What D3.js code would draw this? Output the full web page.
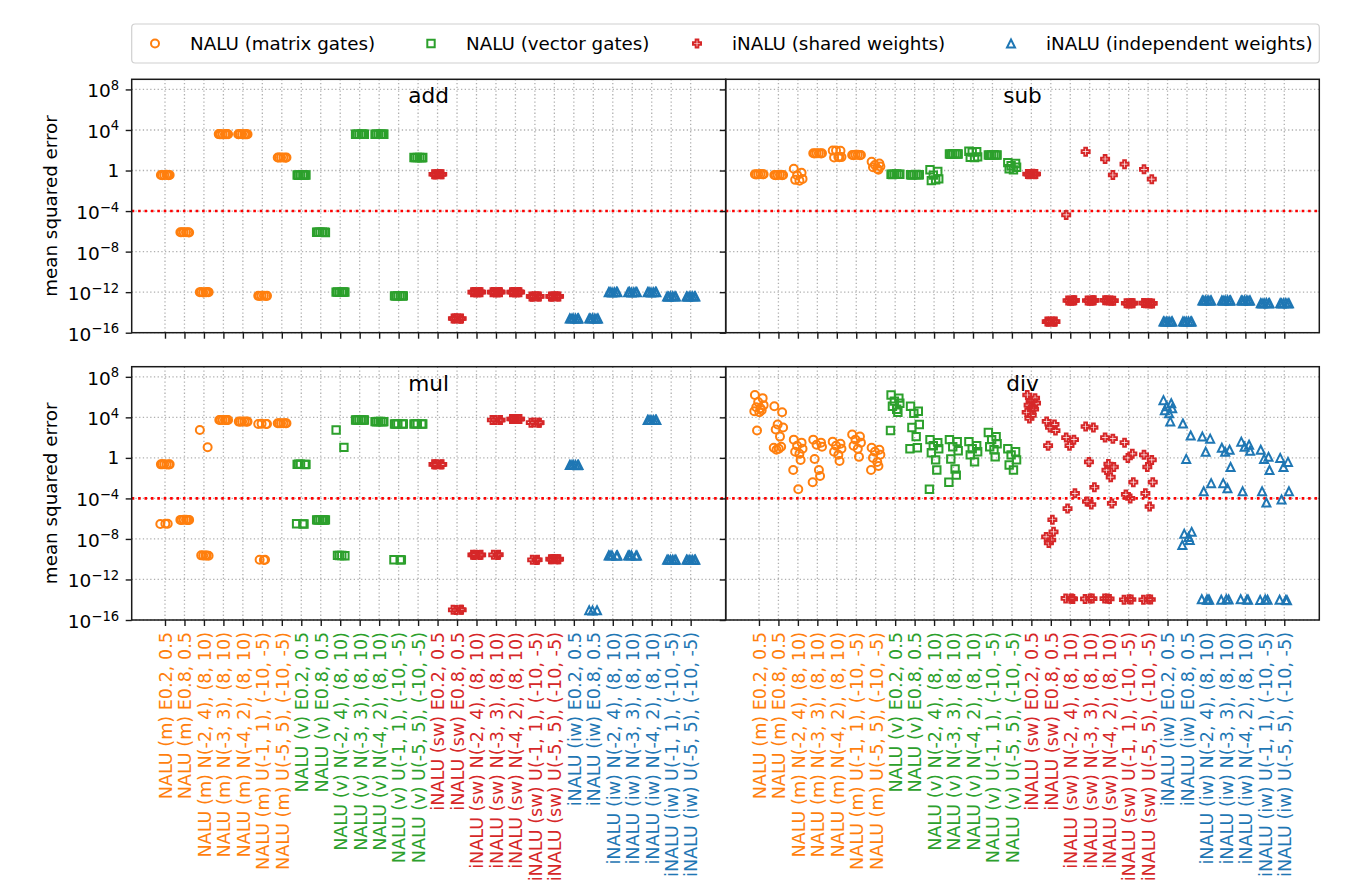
<!DOCTYPE html>
<html>
<head>
<meta charset="utf-8">
<script src="https://cdn.jsdelivr.net/npm/d3@7"></script>
<style>
  body { margin: 0; background: #fff; }
  text { font-family: "DejaVu Sans", sans-serif; }
</style>
</head>
<body>
<svg id="chart" width="1358" height="889"></svg>
<script>
// ---- categories and labels ----
const modelNames = ["NALU (matrix gates)", "NALU (vector gates)", "iNALU (shared weights)", "iNALU (independent weights)"];
const modelTags = ["NALU (m)", "NALU (v)", "iNALU (sw)", "iNALU (iw)"];
const initSchemes = ["E0.2, 0.5", "E0.8, 0.5", "N(-2, 4), (8, 10)", "N(-3, 3), (8, 10)",
                     "N(-4, 2), (8, 10)", "U(-1, 1), (-10, -5)", "U(-5, 5), (-10, -5)"];
const modelColors = ["#ff7f0e", "#2ca02c", "#d62728", "#1f77b4"];
const yTickValues = [1e8, 1e4, 1, 1e-4, 1e-8, 1e-12, 1e-16];
const successThreshold = 1e-4;
const operations = ["add", "sub", "mul", "div"];

// ---- mean squared error of every run, one list per model/initialisation ----
const addMSE = [
  [0.36, 0.35, 0.37, 0.36, 0.34, 0.38, 0.36],
  [8.1e-7, 8.0e-7, 8.3e-7, 7.8e-7, 8.1e-7, 8.2e-7],
  [1.0e-12, 1.05e-12, 0.95e-12, 1.0e-12, 1.02e-12, 0.98e-12, 1.0e-12],
  [3.8e3, 3.9e3, 3.7e3, 3.8e3, 3.85e3, 3.75e3, 3.8e3, 3.9e3],
  [3.8e3, 3.85e3, 3.75e3, 3.8e3, 3.9e3, 3.7e3, 3.8e3, 3.85e3],
  [4.3e-13, 4.2e-13, 4.4e-13, 4.3e-13, 4.1e-13, 4.5e-13],
  [19, 18.5, 19.5, 19, 18.8, 19.2],
  [0.36, 0.35, 0.37, 0.36, 0.34, 0.38, 0.36],
  [8.1e-7, 8.0e-7, 8.3e-7, 7.8e-7, 8.1e-7, 8.2e-7],
  [1.0e-12, 1.05e-12, 0.95e-12, 1.0e-12, 1.02e-12, 0.98e-12, 1.0e-12],
  [3.8e3, 3.9e3, 3.7e3, 3.8e3, 3.85e3, 3.75e3, 3.8e3],
  [3.8e3, 3.85e3, 3.75e3, 3.8e3, 3.9e3, 3.7e3, 3.8e3],
  [4.3e-13, 4.2e-13, 4.4e-13, 4.3e-13, 4.1e-13, 4.5e-13],
  [19, 18.5, 19.5, 19, 18.8, 19.2],
  [0.43, 0.42, 0.44, 0.43, 0.41, 0.45],
  [2.5e-15, 2.4e-15, 2.6e-15, 2.5e-15, 2.45e-15, 2.55e-15],
  [1.0e-12, 1.05e-12, 0.95e-12, 1.0e-12, 1.02e-12, 0.98e-12, 1.0e-12],
  [1.0e-12, 1.05e-12, 0.95e-12, 1.0e-12, 1.02e-12, 0.98e-12, 1.0e-12],
  [1.0e-12, 1.05e-12, 0.95e-12, 1.0e-12, 1.02e-12, 0.98e-12, 1.0e-12],
  [3.8e-13, 3.7e-13, 3.9e-13, 3.8e-13, 3.6e-13, 4.0e-13],
  [3.8e-13, 3.7e-13, 3.9e-13, 3.8e-13, 3.6e-13, 4.0e-13],
  [2.5e-15, 2.4e-15, 2.6e-15, 2.5e-15, 2.45e-15, 2.55e-15],
  [2.5e-15, 2.4e-15, 2.6e-15, 2.5e-15, 2.45e-15, 2.55e-15],
  [1.0e-12, 1.05e-12, 0.95e-12, 1.0e-12, 1.02e-12, 0.98e-12],
  [1.0e-12, 1.05e-12, 0.95e-12, 1.0e-12, 1.02e-12, 0.98e-12],
  [1.0e-12, 1.05e-12, 0.95e-12, 1.0e-12, 1.02e-12, 0.98e-12],
  [3.8e-13, 3.7e-13, 3.9e-13, 3.8e-13, 3.6e-13, 4.0e-13],
  [3.8e-13, 3.7e-13, 3.9e-13, 3.8e-13, 3.6e-13, 4.0e-13]
];

const subMSE = [
  [0.43, 0.42, 0.44, 0.43, 0.41, 0.45],
  [0.36, 0.35, 0.37, 0.36, 0.34, 0.38],
  [1.5, 0.6, 0.35, 0.15, 0.12, 0.1],
  [50, 49, 51, 50, 48, 52],
  [92, 88, 95, 21, 19, 22, 20],
  [34, 33, 35, 34, 32, 36],
  [7.4, 5, 3.5, 2.5, 2.1, 1.5, 1.2],
  [0.43, 0.42, 0.44, 0.43, 0.41, 0.45],
  [0.38, 0.37, 0.39, 0.38, 0.36, 0.4],
  [1.2, 0.8, 0.35, 0.15, 0.1, 0.12],
  [43, 42, 44, 43, 41, 45],
  [80, 72, 65, 22, 20, 19],
  [34, 33, 35, 34, 32, 36],
  [6, 5, 3, 2.1, 1.5, 1.15],
  [0.45, 0.44, 0.46, 0.45, 0.43, 0.47],
  [1.26e-15, 1.2e-15, 1.3e-15, 1.26e-15, 1.22e-15, 1.3e-15],
  [4.2e-5, 1.5e-13, 1.45e-13, 1.55e-13, 1.5e-13, 1.42e-13, 1.58e-13],
  [72, 1.5e-13, 1.45e-13, 1.55e-13, 1.5e-13, 1.42e-13, 1.58e-13],
  [13.8, 0.36, 1.5e-13, 1.45e-13, 1.55e-13, 1.5e-13, 1.42e-13, 1.58e-13],
  [4.2, 8e-14, 7.8e-14, 8.2e-14, 8e-14, 7.6e-14, 8.4e-14],
  [1.3, 0.14, 8e-14, 7.8e-14, 8.2e-14, 8e-14, 7.6e-14, 8.4e-14],
  [1.26e-15, 1.2e-15, 1.3e-15, 1.26e-15, 1.22e-15, 1.3e-15],
  [1.26e-15, 1.2e-15, 1.3e-15, 1.26e-15, 1.22e-15, 1.3e-15],
  [1.5e-13, 1.45e-13, 1.55e-13, 1.5e-13, 1.42e-13, 1.58e-13],
  [1.5e-13, 1.45e-13, 1.55e-13, 1.5e-13, 1.42e-13, 1.58e-13],
  [1.5e-13, 1.45e-13, 1.55e-13, 1.5e-13, 1.42e-13, 1.58e-13],
  [8e-14, 7.8e-14, 8.2e-14, 8e-14, 7.6e-14, 8.4e-14],
  [8e-14, 7.8e-14, 8.2e-14, 8e-14, 7.6e-14, 8.4e-14]
];

const mulMSE = [
  [0.23, 0.22, 0.24, 0.23, 0.235, 0.225, 3.1e-7, 3.0e-7, 3.2e-7],
  [7.6e-7, 7.4e-7, 7.8e-7, 7.6e-7, 7.5e-7, 7.7e-7, 7.6e-7],
  [575, 11, 2.3e-10, 2.2e-10, 2.4e-10, 2.3e-10, 2.35e-10],
  [5500, 5400, 5600, 5500, 5450, 5550, 5500],
  [3800, 3700, 3900, 3800, 3750, 3850],
  [2240, 2200, 2280, 2240, 8.7e-11, 8.5e-11, 8.9e-11],
  [2630, 2600, 2660, 2630, 2610, 2650],
  [0.23, 0.22, 0.24, 0.23, 0.235, 3.1e-7, 3.0e-7, 3.2e-7],
  [7.6e-7, 7.4e-7, 7.8e-7, 7.6e-7, 7.5e-7, 7.7e-7, 7.6e-7],
  [575, 11, 2.3e-10, 2.2e-10, 2.4e-10, 2.3e-10],
  [5500, 5400, 5600, 5500, 5450, 5550],
  [3800, 3700, 3900, 3800, 3750, 3850],
  [2240, 2200, 2280, 2240, 2220, 8.7e-11, 8.5e-11, 8.9e-11],
  [2240, 2200, 2280, 2240, 2260],
  [0.23, 0.22, 0.24, 0.23, 0.225],
  [1.0e-15, 1.05e-15, 0.95e-15, 1.0e-15],
  [2.7e-10, 2.6e-10, 2.8e-10, 2.7e-10, 2.65e-10],
  [5500, 5400, 5600, 5500, 2.7e-10, 2.6e-10, 2.8e-10],
  [6900, 6800, 7000, 6900, 6850, 6950],
  [3000, 2900, 3100, 3000, 8.7e-11, 8.5e-11, 8.9e-11],
  [1.0e-10, 0.98e-10, 1.02e-10, 1.0e-10, 0.99e-10, 1.01e-10],
  [0.2, 0.19, 0.21, 0.2, 0.195, 0.205],
  [9e-16, 9.2e-16, 8.8e-16],
  [2.3e-10, 2.2e-10, 2.4e-10, 2.3e-10, 2.35e-10],
  [2.3e-10, 2.2e-10, 2.4e-10, 2.3e-10, 2.35e-10],
  [5500, 5400, 5600, 5500, 5450, 5550],
  [8.7e-11, 8.5e-11, 8.9e-11, 8.7e-11, 8.6e-11, 8.8e-11],
  [8.7e-11, 8.5e-11, 8.9e-11, 8.7e-11, 8.6e-11, 8.8e-11]
];

const divMSE = [
  [1.6e6, 7.9e5, 3.2e5, 1.6e5, 1e5, 7.9e4, 5e4, 4e4, 3.2e4, 500],
  [1.26e5, 3.2e4, 2000, 1000, 630, 126, 12.6, 10, 7.9, 6.3],
  [63, 32, 16, 7.9, 4, 2.5, 0.63, 0.063, 7.9e-4],
  [63, 32, 20, 12.6, 0.79, 0.063, 0.016, 0.004],
  [40, 25, 16, 7.9, 4, 2, 0.5],
  [200, 126, 63, 32, 16, 7.9, 1.26],
  [10, 6.3, 4, 2, 1, 0.4, 0.16, 0.063],
  [1.6e6, 7.9e5, 4e5, 2.5e5, 1.26e5, 6.3e4, 3.2e4, 500],
  [1.26e5, 4e4, 2.5e4, 2000, 1000, 126, 10, 7.9],
  [63, 32, 16, 7.9, 3.2, 0.63, 0.063, 7.9e-4],
  [63, 40, 12.6, 5, 0.79, 0.079, 0.02, 0.004],
  [40, 16, 7.9, 4, 2, 0.4],
  [316, 126, 63, 25, 12.6, 6.3, 1.26],
  [7.9, 4, 2, 0.63, 0.2, 0.063],
  [1.6e6, 7.9e5, 4e5, 2.5e5, 1.6e5, 1e5, 6.3e4, 3.2e4, 1.6e4, 7.9e3],
  [4000, 2000, 1000, 500, 16, 7.9e-7, 5e-8, 1.6e-8, 7.9e-9, 4e-9],
  [100, 63, 16, 3.2e-4, 1e-5, 1.3e-14, 1.2e-14, 1.35e-14, 1.25e-14],
  [1260, 1000, 0.4, 1.26e-3, 5e-5, 2.5e-5, 1.3e-14, 1.2e-14, 1.35e-14],
  [100, 79, 0.25, 0.126, 0.063, 0.0126, 3.2e-5, 1.3e-14, 1.2e-14, 1.35e-14],
  [32, 2.5, 1, 0.004, 2.5e-4, 1e-4, 1.05e-14, 1.0e-14, 1.1e-14],
  [2, 0.63, 0.126, 0.004, 3.2e-4, 1.6e-5, 1.05e-14, 1.0e-14, 1.1e-14],
  [5e5, 2.5e5, 1.26e5, 7.9e4, 5e4, 2.5e4, 4000],
  [2500, 160, 0.79, 5e-8, 3.2e-8, 1.6e-8, 7.9e-9, 2.5e-9],
  [126, 79, 4, 3.2e-3, 5e-4, 1.05e-14, 1.0e-14, 1.1e-14, 1.02e-14],
  [10, 6.3, 4, 0.126, 3.2e-3, 1e-3, 1.05e-14, 1.0e-14, 1.1e-14],
  [40, 20, 12.6, 5, 5e-4, 1.05e-14, 1.0e-14, 1.1e-14],
  [6.3, 1.26, 0.79, 0.063, 5e-4, 4e-5, 1.0e-14, 0.95e-14, 1.05e-14],
  [1, 0.4, 0.126, 5e-4, 8e-5, 9.5e-15, 9e-15, 1.0e-14]
];

// horizontal spread of the runs inside one category (in category units)
const spread = [-0.21, 0.19, -0.04, 0.24, -0.14, 0.08, 0.14, -0.24, 0.02, -0.1, 0.22, -0.18];

const categories = modelTags.flatMap(m => initSchemes.map(s => `${m} ${s}`));
const categoryModel = categories.map((_, i) => Math.floor(i / initSchemes.length));
const panelData = { add: addMSE, sub: subMSE, mul: mulMSE, div: divMSE };

// ---- layout ----
const svg = d3.select("#chart");
const colX = [[131.7, 725.7], [725.7, 1319.3]];
const rowY = [[79.3, 332.7], [366.7, 620]];
const tickLen = 6;

const x = d3.scaleLinear().domain([-1.71, 28.8]);
const y = d3.scaleLog().domain([1e-16, 1e9]);

// marker outlines, one per model
const S = 4.0;
function markerPath(k) {
  if (k === 0) return `M${S},0A${S},${S} 0 1,1 ${-S},0A${S},${S} 0 1,1 ${S},0Z`;
  if (k === 1) { const h = 3.7; return `M${-h},${-h}H${h}V${h}H${-h}Z`; }
  if (k === 2) {
    const a = S / 3;
    return `M${-a},${-S}H${a}V${-a}H${S}V${a}H${a}V${S}H${-a}V${a}H${-S}V${-a}H${-a}Z`;
  }
  return `M0,${-S}L${S},${S}L${-S},${S}Z`;
}
const markerStroke = 2.0;

function supLabel(sel, v) {
  const e = Math.round(Math.log10(v));
  sel.selectAll("*").remove();
  if (e === 0) { sel.text("1").attr("dy", 6); return; }
  sel.text(null).attr("dy", 7.5);
  sel.append("tspan").text("10");
  sel.append("tspan").attr("dy", -7.5).attr("font-size", 13.2)
     .text(String(e).replace("-", "\u2212"));
}

operations.forEach((op, p) => {
  const col = p % 2, row = Math.floor(p / 2);
  const [x0, x1] = colX[col], [y0, y1] = rowY[row];
  const xs = x.copy().range([x0, x1]);
  const ys = y.copy().range([y1, y0]);
  const g = svg.append("g");

  // grid
  const grid = g.append("g").attr("stroke", "#b0b0b0").attr("stroke-width", 1.3)
    .attr("stroke-dasharray", "1.3,2.4");
  grid.selectAll("line.v").data(categories).join("line").attr("class", "v")
    .attr("x1", (d, i) => xs(i)).attr("x2", (d, i) => xs(i))
    .attr("y1", y0).attr("y2", y1);
  grid.selectAll("line.h").data(yTickValues).join("line").attr("class", "h")
    .attr("x1", x0).attr("x2", x1)
    .attr("y1", d => ys(d)).attr("y2", d => ys(d));

  // success threshold
  g.append("line").attr("x1", x0).attr("x2", x1)
    .attr("y1", ys(successThreshold)).attr("y2", ys(successThreshold))
    .attr("stroke", "#ff0000").attr("stroke-width", 2.6).attr("stroke-dasharray", "2.6,3.8");

  // runs
  const runs = panelData[op].flatMap((vals, i) =>
    vals.map((v, j) => ({ i, v, j, m: categoryModel[i] })));
  [0, 1, 2, 3].forEach(m => {
    g.append("g").selectAll("path").data(runs.filter(r => r.m === m)).join("path")
      .attr("d", markerPath(m))
      .attr("transform", r => `translate(${xs(r.i + spread[r.j % spread.length])},${ys(r.v)})`)
      .attr("fill", "none").attr("stroke", modelColors[m]).attr("stroke-width", markerStroke)
      .attr("stroke-linejoin", "miter");
  });

  // frame
  g.append("rect").attr("x", x0).attr("y", y0).attr("width", x1 - x0).attr("height", y1 - y0)
    .attr("fill", "none").attr("stroke", "#1a1a1a").attr("stroke-width", 1.5);

  // x ticks
  const xAxis = d3.axisBottom(xs).tickValues(d3.range(categories.length))
    .tickSize(tickLen).tickPadding(6)
    .tickFormat(row === 1 ? (i => categories[i]) : () => "");
  const xa = g.append("g").attr("transform", `translate(0,${y1})`).call(xAxis);
  xa.select(".domain").remove();
  xa.selectAll(".tick line").attr("stroke", "#1a1a1a").attr("stroke-width", 1.4);
  xa.selectAll(".tick text")
    .attr("transform", "rotate(-90)")
    .attr("text-anchor", "end")
    .attr("x", -(tickLen + 6)).attr("y", 0).attr("dy", "0.36em")
    .attr("font-size", 17.6).attr("font-family", "DejaVu Sans")
    .attr("fill", i => modelColors[categoryModel[i]]);

  // y ticks
  const yAxis = d3.axisLeft(ys).tickValues(yTickValues).tickSize(tickLen).tickPadding(6)
    .tickFormat(() => "");
  const ya = g.append("g").attr("transform", `translate(${x0},0)`).call(yAxis);
  ya.select(".domain").remove();
  ya.selectAll(".tick line").attr("stroke", "#1a1a1a").attr("stroke-width", 1.4);
  if (col === 0) {
    ya.selectAll(".tick text")
      .attr("font-size", 18.5).attr("font-family", "DejaVu Sans").attr("fill", "#000")
      .attr("x", -(tickLen + 6.5)).attr("text-anchor", "end")
      .each(function(d) { supLabel(d3.select(this), d); });
    g.append("text")
      .attr("transform", `translate(57,${(y0 + y1) / 2}) rotate(-90)`)
      .attr("text-anchor", "middle").attr("font-size", 18.3).attr("fill", "#000")
      .text("mean squared error");
  } else {
    ya.selectAll(".tick text").remove();
  }

  // panel title
  g.append("text").attr("x", (x0 + x1) / 2).attr("y", y0 + 24)
    .attr("text-anchor", "middle").attr("font-size", 21.6).attr("fill", "#000")
    .text(op);
});

// ---- legend ----
const legend = svg.append("g");
legend.append("rect").attr("x", 131.7).attr("y", 24).attr("width", 1319.3 - 131.7).attr("height", 39)
  .attr("rx", 3.5).attr("fill", "#fff").attr("stroke", "#d0d0d0").attr("stroke-width", 1.2);
const legendX = [155, 431, 697, 1011];
modelNames.forEach((name, m) => {
  legend.append("path").attr("d", markerPath(m))
    .attr("transform", `translate(${legendX[m]},43.5)`)
    .attr("fill", "none").attr("stroke", modelColors[m]).attr("stroke-width", markerStroke);
  legend.append("text").attr("x", legendX[m] + 35).attr("y", 43.5).attr("dy", "0.36em")
    .attr("font-size", 18.3).attr("fill", "#000").text(name);
});
</script>
</body>
</html>
